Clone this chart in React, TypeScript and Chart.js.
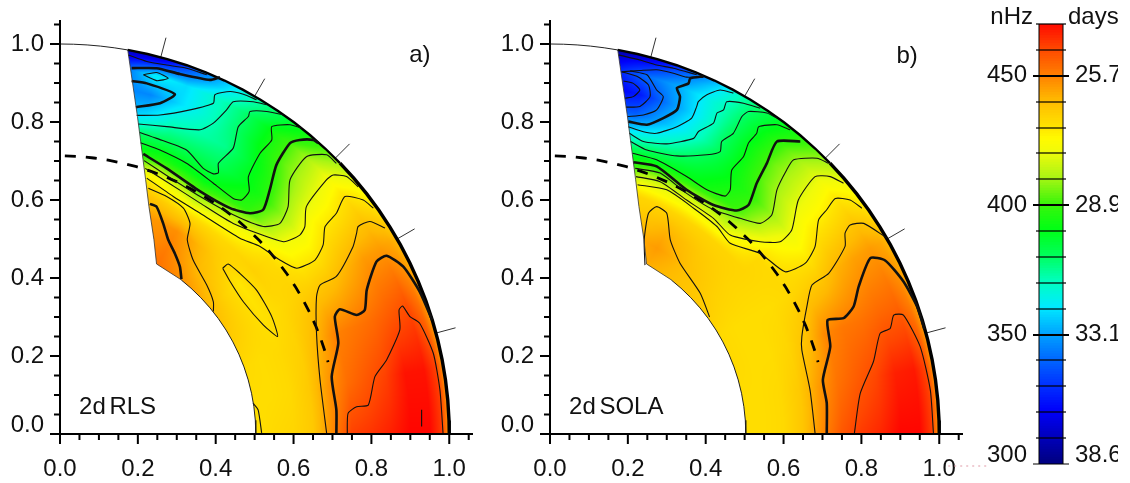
import React, { useEffect, useRef } from "react";
import { Chart, registerables } from "chart.js";

Chart.register(...registerables);

type Pair = [number, number];

const axisTickValues = [0, 0.05, 0.1, 0.15, 0.2, 0.25, 0.3, 0.35, 0.4, 0.45, 0.5, 0.55, 0.6, 0.65, 0.7, 0.75, 0.8, 0.85, 0.9, 0.95, 1.0, 1.05];
const axisMajorValues = [0, 0.2, 0.4, 0.6, 0.8, 1.0];

const fieldRadii = [0.5, 0.55, 0.6, 0.65, 0.7, 0.75, 0.8, 0.85, 0.9, 0.95, 0.98, 1.0];
const fieldLatitudes = [0, 10, 20, 30, 40, 50, 60, 70, 75, 80];

const fieldA = [
  [430, 432, 433, 436, 448, 461, 463, 466, 470, 470, 462, 445],
  [431, 431, 432, 436, 446, 453, 457, 461, 468, 468, 461, 445],
  [432, 431, 432, 434, 440, 449, 451, 453, 456, 459, 452, 443],
  [436, 433, 430, 432, 434, 435, 437, 441, 445, 445, 443, 440],
  [440, 434, 429, 434, 431, 422, 420, 425, 426, 430, 425, 420],
  [446, 440, 437, 432, 420, 398, 394, 398, 404, 405, 397, 393],
  [452, 450, 447, 432, 410, 389, 380, 375, 378, 378, 372, 370],
  [450, 445, 445, 438, 425, 395, 380, 369, 358, 358, 342, 335],
  [450, 445, 440, 440, 420, 393, 378, 357, 345, 362, 330, 310],
  [450, 450, 445, 430, 400, 380, 360, 350, 345, 340, 320, 310],
];

const fieldB = [
  [431, 431, 432, 437, 448, 457, 462, 465, 470, 470, 462, 445],
  [431, 431, 432, 436, 445, 452, 456, 460, 466, 467, 460, 445],
  [432, 431, 431, 433, 438, 448, 451, 452, 454, 455, 450, 443],
  [432, 431, 431, 431, 432, 434, 436, 441, 444, 445, 443, 440],
  [436, 434, 433, 433, 432, 425, 419, 424, 425, 428, 424, 420],
  [438, 438, 436, 433, 415, 400, 397, 403, 405, 403, 398, 395],
  [442, 445, 441, 433, 417, 390, 384, 378, 377, 375, 373, 372],
  [442, 440, 435, 433, 415, 388, 368, 352, 345, 350, 340, 330],
  [442, 442, 438, 425, 400, 385, 362, 338, 325, 340, 325, 312],
  [442, 442, 438, 425, 398, 380, 358, 335, 318, 325, 315, 305],
];

const colorValues = [300, 310, 320, 330, 340, 350, 360, 370, 380, 390, 400, 410, 420, 425, 430, 440, 450, 460, 470];
const colorStops: [number, number, number][] = [
  [0, 0, 130], [0, 0, 190], [0, 0, 250], [0, 50, 255], [0, 105, 255], [0, 165, 255], [0, 235, 255], [0, 255, 190],
  [0, 255, 90], [0, 255, 20], [60, 245, 10], [170, 245, 20], [240, 250, 10], [255, 250, 0], [255, 225, 0],
  [255, 185, 0], [255, 125, 0], [255, 70, 0], [255, 5, 0],
];

const wedgeEdge: Pair[] = [[0.174, 0.985], [0.199, 0.814], [0.22, 0.652], [0.2285, 0.583], [0.2414, 0.498], [0.248, 0.436], [0.312, 0.395]];
const innerArcLatitudes = [51.7, 48, 44, 40, 36, 32, 28, 24, 20, 16, 12, 8, 4, 0];
const outerThinLatitudes = [90, 88, 86, 84, 82, 80];
const outerMidLatitudes = [80, 77, 74, 71, 68, 65, 62, 59, 56, 53, 50, 47, 44];
const outerHeavyLatitudes = [44, 41, 38, 35, 32, 29, 26, 23, 20, 17, 14, 11, 8, 5, 2, 0];
const surfaceTickLatitudes = [15, 30, 45, 60, 75];
const tachoclineRadius = 0.713;
const tachoclineLatitudes = [89, 86, 83, 80, 77, 74, 71, 68, 65, 62, 59, 56, 53, 50, 47, 44, 41, 38, 35, 32, 29, 26, 23, 20, 17, 15];

// Panel a contours, in the chart's data units
const a340: Pair[] = [[0.175, 0.972], [0.223, 0.955], [0.274, 0.946], [0.325, 0.938], [0.377, 0.921]];
const a350top: Pair[] = [[0.184, 0.938], [0.248, 0.938], [0.308, 0.923], [0.385, 0.908], [0.411, 0.915]];
const a360closed: Pair[] = [[0.214, 0.921], [0.248, 0.927], [0.278, 0.912], [0.248, 0.906], [0.214, 0.921]];
const a350lobe: Pair[] = [[0.184, 0.905], [0.223, 0.899], [0.295, 0.871], [0.257, 0.848], [0.195, 0.838]];
const a360: Pair[] = [[0.197, 0.817], [0.257, 0.818], [0.334, 0.831], [0.394, 0.848], [0.398, 0.87], [0.437, 0.878], [0.471, 0.871], [0.505, 0.857]];
const a370: Pair[] = [[0.201, 0.795], [0.274, 0.788], [0.36, 0.78], [0.394, 0.797], [0.428, 0.831], [0.445, 0.852], [0.496, 0.852], [0.531, 0.844]];
const a380: Pair[] = [[0.205, 0.773], [0.248, 0.758], [0.325, 0.728], [0.368, 0.681], [0.394, 0.667], [0.407, 0.67], [0.407, 0.694], [0.445, 0.733], [0.458, 0.788], [0.484, 0.814], [0.488, 0.827], [0.531, 0.827], [0.574, 0.818]];
const a390: Pair[] = [[0.207, 0.747], [0.257, 0.728], [0.325, 0.694], [0.394, 0.643], [0.445, 0.604], [0.467, 0.6], [0.486, 0.622], [0.484, 0.66], [0.514, 0.72], [0.544, 0.754], [0.544, 0.788], [0.591, 0.793], [0.621, 0.784]];
const a400: Pair[] = [[0.214, 0.718], [0.274, 0.681], [0.36, 0.622], [0.437, 0.579], [0.488, 0.566], [0.522, 0.575], [0.539, 0.626], [0.556, 0.69], [0.591, 0.746], [0.616, 0.754], [0.651, 0.754], [0.663, 0.746]];
const a410: Pair[] = [[0.216, 0.701], [0.274, 0.663], [0.36, 0.609], [0.445, 0.562], [0.522, 0.532], [0.565, 0.54], [0.586, 0.583], [0.591, 0.652], [0.633, 0.711], [0.685, 0.716], [0.71, 0.694]];
const a420: Pair[] = [[0.219, 0.681], [0.274, 0.647], [0.36, 0.592], [0.445, 0.54], [0.574, 0.493], [0.616, 0.51], [0.629, 0.532], [0.633, 0.583], [0.685, 0.652], [0.702, 0.664], [0.736, 0.66], [0.766, 0.634]];
const a430: Pair[] = [[0.223, 0.656], [0.291, 0.609], [0.36, 0.566], [0.462, 0.502], [0.514, 0.481], [0.565, 0.446], [0.608, 0.425], [0.655, 0.446], [0.676, 0.485], [0.681, 0.532], [0.71, 0.566], [0.732, 0.609], [0.779, 0.6], [0.805, 0.579]];
const a440: Pair[] = [[0.835, 0.528], [0.796, 0.545], [0.766, 0.532], [0.762, 0.515], [0.753, 0.481], [0.71, 0.404], [0.668, 0.382], [0.659, 0.352], [0.659, 0.258], [0.668, 0.139], [0.685, 0.002]];
const a450: Pair[] = [[0.71, 0.002], [0.71, 0.062], [0.698, 0.147], [0.715, 0.233], [0.706, 0.301], [0.719, 0.32], [0.762, 0.305], [0.783, 0.318], [0.788, 0.369], [0.813, 0.442], [0.839, 0.457], [0.882, 0.429], [0.924, 0.365], [0.956, 0.292]];
const a460: Pair[] = [[0.738, 0.002], [0.74, 0.053], [0.762, 0.07], [0.792, 0.074], [0.809, 0.147], [0.839, 0.19], [0.873, 0.267], [0.871, 0.318], [0.88, 0.328], [0.899, 0.301], [0.924, 0.284], [0.959, 0.207], [0.976, 0.113], [0.984, 0.002]];
const a470mark: Pair[] = [[0.929, 0.062], [0.929, 0.019]];
const a430closed: Pair[] = [[0.418, 0.425], [0.432, 0.436], [0.462, 0.412], [0.505, 0.369], [0.544, 0.301], [0.559, 0.25], [0.522, 0.28], [0.471, 0.339], [0.437, 0.391], [0.418, 0.425]];
const a440left: Pair[] = [[0.227, 0.63], [0.274, 0.609], [0.317, 0.579], [0.334, 0.54], [0.327, 0.498], [0.342, 0.446], [0.377, 0.382], [0.394, 0.339], [0.394, 0.314]];
const a450left: Pair[] = [[0.231, 0.59], [0.248, 0.583], [0.265, 0.54], [0.278, 0.498], [0.295, 0.463], [0.308, 0.429], [0.312, 0.397]];
const a430base: Pair[] = [[0.496, 0.079], [0.509, 0.062], [0.518, 0.003]];

// Panel b contours, in the chart's data units
const b340top: Pair[] = [[0.176, 0.972], [0.231, 0.959], [0.274, 0.946], [0.317, 0.938], [0.377, 0.921]];
const b345top: Pair[] = [[0.184, 0.929], [0.231, 0.932], [0.274, 0.934], [0.317, 0.925], [0.351, 0.915], [0.394, 0.915]];
const b320: Pair[] = [[0.189, 0.905], [0.214, 0.899], [0.231, 0.882], [0.214, 0.865], [0.193, 0.861]];
const b330: Pair[] = [[0.184, 0.929], [0.223, 0.917], [0.253, 0.895], [0.257, 0.865], [0.231, 0.84], [0.195, 0.838]];
const b340: Pair[] = [[0.206, 0.931], [0.249, 0.921], [0.274, 0.882], [0.291, 0.865], [0.274, 0.831], [0.24, 0.818], [0.199, 0.814]];
const b350: Pair[] = [[0.201, 0.801], [0.249, 0.793], [0.291, 0.81], [0.326, 0.831], [0.334, 0.865], [0.326, 0.887], [0.356, 0.899], [0.36, 0.912], [0.394, 0.917]];
const b360: Pair[] = [[0.201, 0.788], [0.24, 0.775], [0.274, 0.771], [0.326, 0.788], [0.364, 0.81], [0.377, 0.84], [0.381, 0.852], [0.403, 0.87], [0.437, 0.882], [0.471, 0.874]];
const b370: Pair[] = [[0.204, 0.771], [0.24, 0.75], [0.3, 0.744], [0.369, 0.758], [0.381, 0.775], [0.42, 0.797], [0.429, 0.823], [0.446, 0.831], [0.454, 0.852], [0.497, 0.848], [0.54, 0.835]];
const b380: Pair[] = [[0.207, 0.75], [0.249, 0.728], [0.326, 0.713], [0.403, 0.716], [0.437, 0.724], [0.441, 0.75], [0.471, 0.771], [0.493, 0.814], [0.51, 0.827], [0.557, 0.823], [0.583, 0.81]];
const b390: Pair[] = [[0.212, 0.72], [0.274, 0.703], [0.351, 0.66], [0.403, 0.626], [0.45, 0.61], [0.463, 0.626], [0.467, 0.677], [0.497, 0.711], [0.51, 0.746], [0.531, 0.771], [0.536, 0.788], [0.583, 0.793], [0.617, 0.78]];
const b400: Pair[] = [[0.214, 0.697], [0.274, 0.686], [0.351, 0.626], [0.42, 0.587], [0.48, 0.573], [0.51, 0.587], [0.531, 0.643], [0.557, 0.694], [0.583, 0.75], [0.643, 0.75]];
const b410: Pair[] = [[0.219, 0.681], [0.283, 0.669], [0.351, 0.617], [0.42, 0.575], [0.488, 0.553], [0.54, 0.54], [0.57, 0.562], [0.583, 0.626], [0.608, 0.677], [0.626, 0.703], [0.686, 0.707], [0.716, 0.694]];
const b420: Pair[] = [[0.221, 0.66], [0.283, 0.647], [0.351, 0.6], [0.42, 0.553], [0.463, 0.51], [0.54, 0.493], [0.591, 0.493], [0.621, 0.523], [0.638, 0.6], [0.681, 0.66], [0.72, 0.66], [0.754, 0.643]];
const b430: Pair[] = [[0.225, 0.639], [0.3, 0.626], [0.369, 0.579], [0.429, 0.532], [0.463, 0.489], [0.54, 0.463], [0.604, 0.416], [0.656, 0.438], [0.681, 0.481], [0.69, 0.549], [0.711, 0.575], [0.733, 0.604], [0.771, 0.6], [0.801, 0.579]];
const b440hill: Pair[] = [[0.244, 0.433], [0.242, 0.498], [0.253, 0.566], [0.274, 0.583], [0.3, 0.566], [0.309, 0.498], [0.334, 0.438], [0.386, 0.361], [0.41, 0.3]];
const b440: Pair[] = [[0.866, 0.502], [0.806, 0.54], [0.771, 0.536], [0.758, 0.515], [0.758, 0.481], [0.716, 0.412], [0.673, 0.382], [0.66, 0.327], [0.647, 0.25], [0.647, 0.215], [0.668, 0.113], [0.681, 0.002]];
const b450: Pair[] = [[0.711, 0.002], [0.711, 0.079], [0.701, 0.139], [0.72, 0.224], [0.713, 0.292], [0.754, 0.297], [0.78, 0.327], [0.793, 0.378], [0.823, 0.451], [0.861, 0.445], [0.908, 0.391], [0.943, 0.327], [0.962, 0.268]];
const b460: Pair[] = [[0.782, 0.002], [0.797, 0.104], [0.831, 0.186], [0.848, 0.258], [0.874, 0.271], [0.883, 0.305], [0.908, 0.305], [0.951, 0.224], [0.977, 0.113], [0.985, 0.002]];

const panelAThin = [a340, a360closed, a360, a370, a380, a390, a410, a420, a430, a440, a460, a470mark, a430closed, a440left, a430base];
const panelAThick = [a350top, a350lobe, a400, a450, a450left];
const panelBThin = [b340top, b345top, b320, b330, b340, b360, b370, b380, b390, b410, b420, b430, b440hill, b440, b460];
const panelBThick = [b350, b400, b450];

const panelALabels = ["a)", "2d RLS"];
const panelBLabels = ["b)", "2d SOLA"];
const stray: Pair[] = [[1.023, -0.082], [1.121, -0.082]];

const colorbarTicks = [300, 310, 320, 330, 340, 350, 360, 370, 380, 390, 400, 410, 420, 430, 440, 450, 460, 470];
const colorbarFrequencyTicks = [350, 400, 450];
const colorbarFrequencyExtra = "300";
const colorbarPeriods: Record<number, string> = { 350: "33.1", 400: "28.9", 450: "25.7" };
const colorbarPeriodExtra = "38.6";

const FONT = '"Liberation Sans", Arial, sans-serif';
const FONT_SIZE = 24;
const INK = "#111";

function colorFor(v: number): [number, number, number] {
  if (v <= colorValues[0]) return colorStops[0];
  for (let i = 1; i < colorValues.length; i++) {
    if (v <= colorValues[i]) {
      const t = (v - colorValues[i - 1]) / (colorValues[i] - colorValues[i - 1]);
      const a = colorStops[i - 1];
      const b = colorStops[i];
      return [a[0] + (b[0] - a[0]) * t, a[1] + (b[1] - a[1]) * t, a[2] + (b[2] - a[2]) * t];
    }
  }
  return colorStops[colorStops.length - 1];
}

function sampleField(field: number[][], r: number, lat: number) {
  const rc = Math.max(fieldRadii[0], Math.min(fieldRadii[fieldRadii.length - 1], r));
  const lc = Math.max(fieldLatitudes[0], Math.min(fieldLatitudes[fieldLatitudes.length - 1], lat));
  let i = 0;
  while (i < fieldRadii.length - 2 && rc > fieldRadii[i + 1]) i++;
  let j = 0;
  while (j < fieldLatitudes.length - 2 && lc > fieldLatitudes[j + 1]) j++;
  const tr = (rc - fieldRadii[i]) / (fieldRadii[i + 1] - fieldRadii[i]);
  const tl = (lc - fieldLatitudes[j]) / (fieldLatitudes[j + 1] - fieldLatitudes[j]);
  const low = field[j][i] * (1 - tr) + field[j][i + 1] * tr;
  const high = field[j + 1][i] * (1 - tr) + field[j + 1][i + 1] * tr;
  return low * (1 - tl) + high * tl;
}

const polar = (r: number, lat: number) => ({ x: r * Math.cos((lat * Math.PI) / 180), y: r * Math.sin((lat * Math.PI) / 180) });
const toPoints = (pairs: Pair[]) => pairs.map(([x, y]) => ({ x, y }));

function lineSet(data: { x: number; y: number }[], width: number, extra: Record<string, unknown> = {}) {
  return { data, showLine: true, pointRadius: 0, borderColor: "#111", borderWidth: width, tension: 0, fill: false, ...extra };
}

const noScalePadding = (s: any) => {
  s.paddingTop = 0;
  s.paddingBottom = 0;
  s.paddingLeft = 0;
  s.paddingRight = 0;
};

function fieldPlugin(field: number[][]) {
  return {
    id: "fieldImage",
    beforeDatasetsDraw(chart: any) {
      const { ctx, chartArea: area, scales } = chart;
      const w = Math.ceil(area.right - area.left);
      const h = Math.ceil(area.bottom - area.top);
      const off = document.createElement("canvas");
      off.width = w;
      off.height = h;
      const octx = off.getContext("2d")!;
      const img = octx.createImageData(w, h);
      for (let py = 0; py < h; py++) {
        const yv = scales.y.getValueForPixel(area.top + py + 0.5);
        for (let px = 0; px < w; px++) {
          const xv = scales.x.getValueForPixel(area.left + px + 0.5);
          const r = Math.hypot(xv, yv);
          if (r < 0.48 || r > 1.02) continue;
          const lat = (Math.atan2(yv, xv) * 180) / Math.PI;
          const c = colorFor(sampleField(field, r, lat));
          const k = (py * w + px) * 4;
          img.data[k] = c[0];
          img.data[k + 1] = c[1];
          img.data[k + 2] = c[2];
          img.data[k + 3] = 255;
        }
      }
      octx.putImageData(img, 0, 0);
      ctx.save();
      ctx.beginPath();
      const boundary = [
        ...[80, 70, 60, 50, 40, 30, 20, 10, 0].flatMap((l) => [polar(1, l + 5), polar(1, l)]).slice(1),
        ...innerArcLatitudes.slice().reverse().map((l) => polar(0.503, l)),
        ...toPoints(wedgeEdge).slice().reverse(),
      ];
      boundary.forEach((p, i) => {
        const X = scales.x.getPixelForValue(p.x);
        const Y = scales.y.getPixelForValue(p.y);
        if (i === 0) ctx.moveTo(X, Y);
        else ctx.lineTo(X, Y);
      });
      ctx.closePath();
      ctx.clip();
      ctx.drawImage(off, area.left, area.top);
      ctx.restore();
    },
  };
}

const axesPlugin = {
  id: "panelAxes",
  afterDatasetsDraw(chart: any) {
    const { ctx, chartArea: a, scales } = chart;
    ctx.save();
    ctx.strokeStyle = "#000";
    ctx.lineWidth = 2;
    ctx.beginPath();
    ctx.moveTo(a.left, a.top);
    ctx.lineTo(a.left, a.bottom);
    ctx.lineTo(a.right, a.bottom);
    axisTickValues.forEach((v) => {
      const len = axisMajorValues.includes(v) ? 10 : 6;
      const X = scales.x.getPixelForValue(v);
      const Y = scales.y.getPixelForValue(v);
      ctx.moveTo(X, a.bottom);
      ctx.lineTo(X, a.bottom + len);
      ctx.moveTo(a.left, Y);
      ctx.lineTo(a.left - len, Y);
    });
    ctx.stroke();
    ctx.restore();
  },
};

function labelsPlugin(items: { text: string; x: number; y: number; align: CanvasTextAlign }[]) {
  return {
    id: "panelLabels",
    afterDraw(chart: any) {
      const { ctx, scales } = chart;
      ctx.save();
      ctx.fillStyle = INK;
      ctx.font = `${FONT_SIZE}px ${FONT}`;
      ctx.textBaseline = "middle";
      (ctx as any).wordSpacing = "-3px";
      items.forEach((t) => {
        ctx.textAlign = t.align;
        ctx.fillText(t.text, scales.x.getPixelForValue(t.x), scales.y.getPixelForValue(t.y));
      });
      ctx.restore();
    },
  };
}

function panelConfig(field: number[][], thin: Pair[][], thick: Pair[][], labels: string[], tagX: number, tagY: number, nameX: number, extraSets: any[], rightPad: number) {
  const datasets: any[] = [
    lineSet(wedgeEdge.map(([x, y]) => ({ x, y })), 0.8, { borderColor: "#333" }),
    lineSet(innerArcLatitudes.map((l) => polar(0.503, l)), 1, { borderColor: "#222" }),
    ...thin.map((c) => lineSet(toPoints(c), 1.1, { tension: 0.2 })),
    ...thick.map((c) => lineSet(toPoints(c), 2.6, { tension: 0.2 })),
    lineSet(outerThinLatitudes.map((l) => polar(1, l)), 1, { borderColor: "#222" }),
    lineSet(outerMidLatitudes.map((l) => polar(1, l)), 2.4, { borderColor: "#000" }),
    lineSet(outerHeavyLatitudes.map((l) => polar(1, l)), 3.4, { borderColor: "#000" }),
    ...surfaceTickLatitudes.map((l) => lineSet([polar(1, l), polar(1.052, l)], 1, { borderColor: "#333", clip: false })),
    lineSet(tachoclineLatitudes.map((l) => polar(tachoclineRadius, l)), 2.8, { borderColor: "#000", borderDash: [11, 10] }),
    ...extraSets,
  ];
  return {
    type: "scatter",
    data: { datasets },
    plugins: [
      fieldPlugin(field),
      axesPlugin,
      labelsPlugin([
        { text: labels[0], x: tagX, y: tagY, align: "left" },
        { text: labels[1], x: nameX, y: 0.069, align: "left" },
        { text: axisMajorValues[0].toFixed(1), x: -0.041, y: 0.021, align: "right" },
      ]),
    ],
    options: {
      responsive: false,
      animation: false,
      layout: { padding: { left: 0, top: 20, right: rightPad, bottom: 0 } },
      plugins: { legend: { display: false }, tooltip: { enabled: false } },
      scales: {
        x: {
          type: "linear",
          min: 0,
          max: 1.061,
          grid: { display: false },
          border: { display: false },
          afterBuildTicks: (s: any) => { s.ticks = axisTickValues.map((value) => ({ value })); },
          afterFit: (s: any) => { s.height = 49; noScalePadding(s); },
          ticks: {
            autoSkip: false,
            maxRotation: 0,
            padding: 13,
            color: INK,
            font: { family: FONT, size: FONT_SIZE },
            callback: (v: number) => (axisMajorValues.includes(v) ? v.toFixed(1) : ""),
          },
        },
        y: {
          type: "linear",
          min: 0,
          max: 1.0615,
          grid: { display: false },
          border: { display: false },
          afterBuildTicks: (s: any) => { s.ticks = axisTickValues.map((value) => ({ value })); },
          afterFit: (s: any) => { s.width = 60; noScalePadding(s); },
          ticks: {
            autoSkip: false,
            padding: 8,
            color: INK,
            font: { family: FONT, size: FONT_SIZE },
            callback: (v: number) => (v !== 0 && axisMajorValues.includes(v) ? v.toFixed(1) : ""),
          },
        },
      },
    },
  };
}

function colorbarConfig() {
  const levels = Array.from({ length: 170 }, (_, i) => 300 + i);
  const datasets = levels.map((v) => {
    const c = colorFor(v + 0.5);
    return {
      data: [[v, Math.min(470, v + 1.6)]],
      backgroundColor: `rgb(${c[0]},${c[1]},${c[2]})`,
      borderWidth: 0,
      barPercentage: 1,
      categoryPercentage: 1,
      grouped: false,
    };
  });
  const side = (position: string, width: number, label: (v: number) => string) => ({
    type: "linear",
    position,
    min: 300,
    max: 470,
    grid: { display: false },
    border: { display: false },
    afterBuildTicks: (s: any) => { s.ticks = colorbarTicks.map((value) => ({ value })); },
    afterFit: (s: any) => { s.width = width; noScalePadding(s); },
    ticks: { autoSkip: false, padding: 4, color: INK, font: { family: FONT, size: FONT_SIZE }, callback: label },
  });
  const frame = {
    id: "colorbarFrame",
    afterDatasetsDraw(chart: any) {
      const { ctx, chartArea: a, scales } = chart;
      ctx.save();
      ctx.strokeStyle = "#000";
      ctx.lineWidth = 1;
      ctx.beginPath();
      ctx.moveTo(a.left, a.top);
      ctx.lineTo(a.left, a.bottom);
      ctx.moveTo(a.right, a.top);
      ctx.lineTo(a.right, a.bottom);
      ctx.stroke();
      colorbarTicks.forEach((v) => {
        const major = colorbarFrequencyTicks.includes(v) || v === 300;
        const ext = major ? 6 : 3;
        const Y = Math.round(scales.y.getPixelForValue(v));
        ctx.lineWidth = colorbarFrequencyTicks.includes(v) ? 2 : 1.2;
        ctx.beginPath();
        ctx.moveTo(a.left - ext, Y);
        ctx.lineTo(a.right + ext, Y);
        ctx.stroke();
      });
      ctx.restore();
    },
    afterDraw(chart: any) {
      const { ctx, chartArea: a, scales } = chart;
      ctx.save();
      ctx.fillStyle = INK;
      ctx.font = `${FONT_SIZE}px ${FONT}`;
      ctx.textBaseline = "middle";
      ctx.textAlign = "right";
      ctx.fillText("nHz", a.left - 6, a.top - 7);
      ctx.fillText(colorbarFrequencyExtra, a.left - 12, scales.y.getPixelForValue(303.5));
      ctx.textAlign = "left";
      ctx.fillText("days", a.right + 5, a.top - 7);
      ctx.fillText(colorbarPeriodExtra, a.right + 12, scales.y.getPixelForValue(303.5));
      ctx.restore();
    },
  };
  return {
    type: "bar",
    data: { labels: ["scale"], datasets },
    plugins: [frame],
    options: {
      responsive: false,
      animation: false,
      layout: { padding: { top: 24, bottom: 19, left: 0, right: 0 } },
      plugins: { legend: { display: false }, tooltip: { enabled: false } },
      scales: {
        x: { display: false, stacked: false },
        y: side("left", 69, (v: number) => (colorbarFrequencyTicks.includes(v) ? String(v) : "")),
        y2: side("right", 55, (v: number) => colorbarPeriods[v] ?? ""),
      },
    },
  };
}

function useChart(build: () => any) {
  const ref = useRef<HTMLCanvasElement>(null);
  useEffect(() => {
    const chart = new Chart(ref.current!, build());
    return () => chart.destroy();
  }, []);
  return ref;
}

export default function App() {
  const aRef = useChart(() => panelConfig(fieldA, panelAThin, panelAThick, panelALabels, 0.897, 0.972, 0.049, [], 17));
  const bRef = useChart(() =>
    panelConfig(fieldB, panelBThin, panelBThick, panelBLabels, 0.89, 0.967, 0.049, [
      lineSet(toPoints(stray), 1.2, { borderColor: "#e09aa8", borderDash: [2, 4], clip: false }),
    ], 27),
  );
  const cRef = useChart(colorbarConfig);
  const base = { position: "absolute", top: 0, display: "block" } as const;
  return (
    <>
      <canvas ref={aRef} width={490} height={483} style={{ ...base, left: 0, width: 490, height: 483 }} />
      <canvas ref={bRef} width={500} height={483} style={{ ...base, left: 490, width: 500, height: 483 }} />
      <canvas ref={cRef} width={148} height={483} style={{ ...base, left: 970, width: 148, height: 483 }} />
    </>
  );
}
